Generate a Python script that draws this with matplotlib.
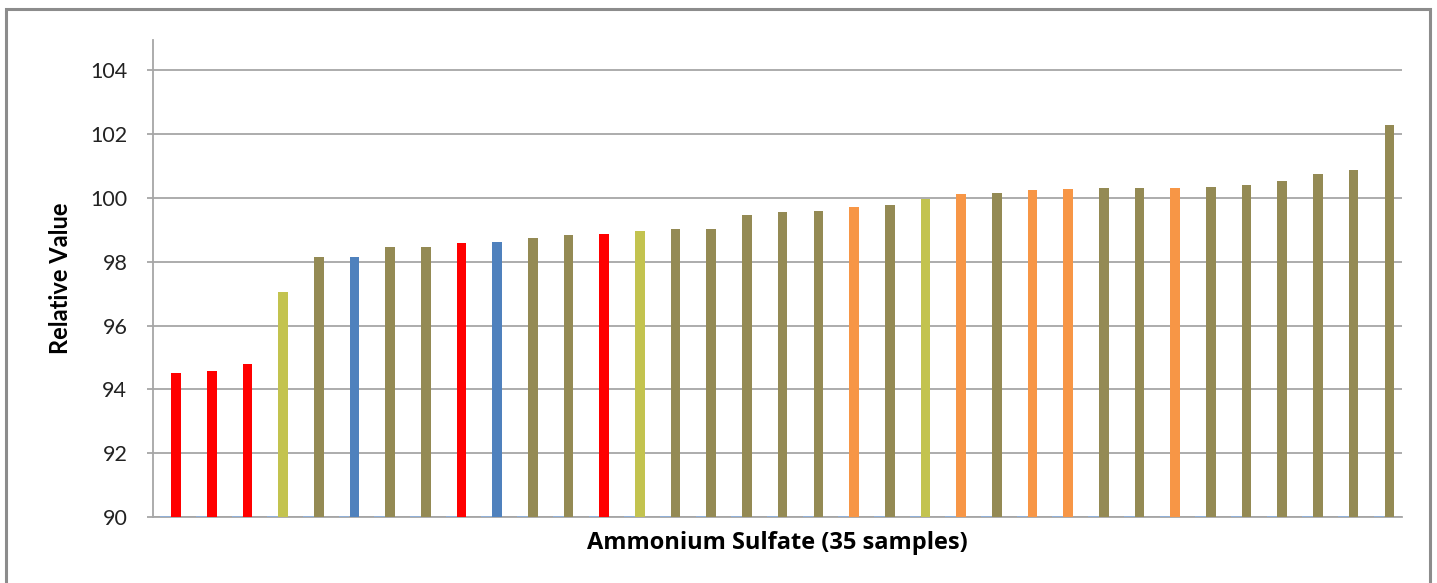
import numpy as np
import matplotlib.pyplot as plt
from matplotlib.patches import Rectangle

# values, 35 samples sorted ascending
values = [94.50, 94.57, 94.78, 97.06, 98.15, 98.15, 98.47, 98.47, 98.60, 98.63,
          98.75, 98.83, 98.87, 98.95, 99.03, 99.03, 99.48, 99.55, 99.60, 99.71,
          99.79, 99.97, 100.11, 100.16, 100.24, 100.28, 100.31, 100.31, 100.31, 100.35,
          100.40, 100.52, 100.76, 100.89, 102.30]
groups = ['r', 'r', 'r', 'y', 'o', 'b', 'o', 'o', 'r', 'b',
          'o', 'o', 'r', 'y', 'o', 'o', 'o', 'o', 'o', 'g',
          'o', 'y', 'g', 'o', 'g', 'g', 'o', 'o', 'g', 'o',
          'o', 'o', 'o', 'o', 'o']
# empty first series (shows as small blue dashes on the baseline)
empty_series = [0] * 35
yticks = [90, 92, 94, 96, 98, 100, 102, 104]

cmap = {'r': '#FF0000', 'y': '#C3C34F', 'o': '#948A54', 'b': '#4F81BD', 'g': '#F79646'}
colors = [cmap[g] for g in groups]

plt.rcParams['font.family'] = ['Lato', 'DejaVu Sans']

fig = plt.figure(figsize=(14.37, 5.83), dpi=100)
ax = fig.add_axes([153/1437, 66/583, 1249/1437, 477/583])

x = np.arange(len(values))
w = 0.27
ax.bar(x - 0.145, empty_series, width=0.3, bottom=90, edgecolor='#8DB3E2',
       linewidth=1.2, color='none', zorder=3)
ax.bar(x + 0.145, np.array(values) - 90, width=w, bottom=90, color=colors, zorder=3)

ax.set_xlim(-0.5, len(values) - 0.5)
ax.set_ylim(90, 104.95)
ax.set_yticks(yticks)
ax.set_xticks([])
ax.yaxis.grid(True, color='#A6A6A6', linewidth=1.3)
ax.set_axisbelow(True)
for s in ['top', 'right']:
    ax.spines[s].set_visible(False)
ax.spines['left'].set_color('#A6A6A6')
ax.spines['bottom'].set_color('#A6A6A6')
ax.spines['left'].set_linewidth(1.3)
ax.spines['bottom'].set_linewidth(1.3)
ax.tick_params(axis='y', length=4.5, width=1.3, color='#A6A6A6', pad=14,
               labelsize=15.5, labelcolor='#222222')

ax.set_ylabel('Relative Value', fontsize=17, fontweight='bold', labelpad=13)
ax.set_xlabel('Ammonium Sulfate (35 samples)', fontsize=17, fontweight='bold',
              family=['Open Sans', 'DejaVu Sans'], labelpad=10)

# outer chart border
fig.patches.append(Rectangle((6/1437, -0.05), 1424/1437, 1.05 - 9/583,
                             transform=fig.transFigure, fill=False,
                             edgecolor='#8C8C8C', linewidth=2.2, clip_on=False))

fig.savefig('out.png', dpi=100)
